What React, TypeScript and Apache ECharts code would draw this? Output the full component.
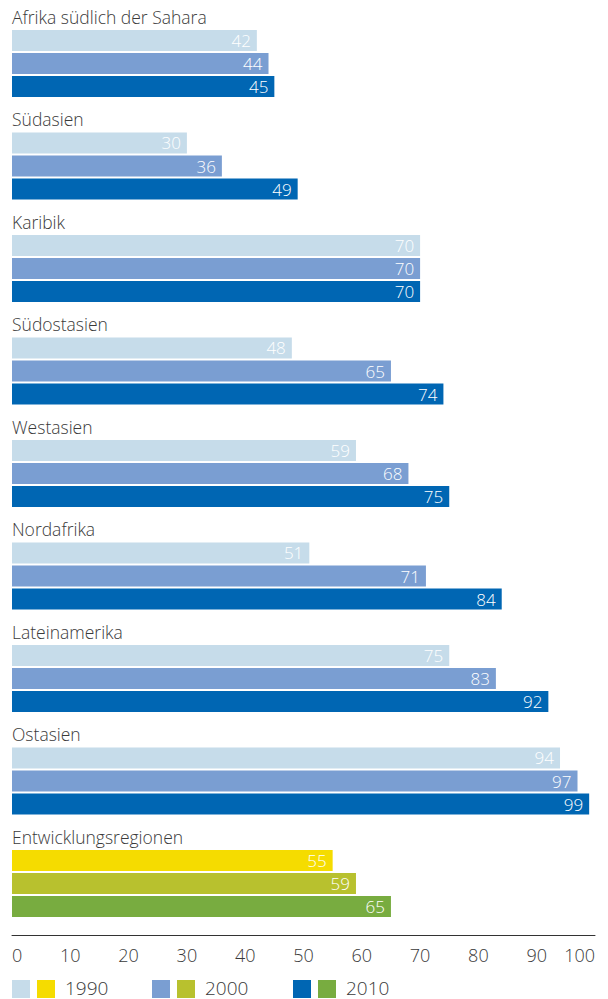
import React, { useEffect, useRef } from "react";
import * as echarts from "echarts";

const categories = [
  "Afrika südlich der Sahara",
  "Südasien",
  "Karibik",
  "Südostasien",
  "Westasien",
  "Nordafrika",
  "Lateinamerika",
  "Ostasien",
  "Entwicklungsregionen",
];
const years = ["1990", "2000", "2010"];
const values1990 = [42, 30, 70, 48, 59, 51, 75, 94, 55];
const values2000 = [44, 36, 70, 65, 68, 71, 83, 97, 59];
const values2010 = [45, 49, 70, 74, 75, 84, 92, 99, 65];
const xTicks = [0, 10, 20, 30, 40, 50, 60, 70, 80, 90, 100];

const blueColors = ["#c6dcea", "#7a9ed2", "#0066b3"];
const greenColors = ["#f5dc00", "#b8c12e", "#78ac40"];
const highlightCategory = "Entwicklungsregionen";

const FONT = "'Open Sans', 'DejaVu Sans', sans-serif";
const TEXT_COLOR = "#3a3a3a";

export default function App() {
  const ref = useRef<HTMLDivElement>(null);

  useEffect(() => {
    if (!ref.current) return;
    const chart = echarts.init(ref.current, undefined, { renderer: "svg" });
    const allValues = [values1990, values2000, values2010];

    const series = years.map((y, si) => ({
      name: y,
      type: "bar",
      barWidth: 21,
      barGap: "10%",
      data: allValues[si].map((v, ci) => ({
        value: v,
        itemStyle: {
          color: categories[ci] === highlightCategory ? greenColors[si] : blueColors[si],
        },
      })),
      label: {
        show: true,
        position: "insideRight",
        distance: 6,
        color: "#ffffff",
        fontSize: 17,
        fontFamily: FONT,
        fontWeight: 300,
      },
    }));

    const legendGraphics: any[] = [];
    const groupX = [12, 152, 293];
    years.forEach((y, i) => {
      const x0 = groupX[i];
      legendGraphics.push({
        type: "rect",
        left: x0,
        top: 980,
        shape: { width: 18, height: 18 },
        style: { fill: blueColors[i] },
      });
      legendGraphics.push({
        type: "rect",
        left: x0 + 25,
        top: 980,
        shape: { width: 18, height: 18 },
        style: { fill: greenColors[i] },
      });
      legendGraphics.push({
        type: "text",
        left: x0 + 53,
        top: 978,
        style: {
          text: y,
          fill: TEXT_COLOR,
          font: `300 19px ${FONT}`,
        },
      });
    });

    chart.setOption({
      animation: false,
      grid: { left: 12, right: 13, top: 12.25, bottom: 64.25, containLabel: false },
      xAxis: {
        type: "value",
        min: xTicks[0],
        max: xTicks[xTicks.length - 1],
        interval: 10,
        axisLine: { show: true, lineStyle: { color: "#333333", width: 1 } },
        axisTick: { show: false },
        splitLine: { show: false },
        axisLabel: {
          color: TEXT_COLOR,
          fontSize: 18,
          fontFamily: FONT,
          fontWeight: 300,
          margin: 11,
          alignMinLabel: "left",
          alignMaxLabel: "right",
        },
      },
      yAxis: {
        type: "category",
        data: categories,
        inverse: true,
        axisLine: { show: false },
        axisTick: { show: false },
        axisLabel: {
          inside: true,
          margin: 0,
          align: "left",
          verticalAlign: "bottom",
          padding: [0, 0, 38, 0],
          color: TEXT_COLOR,
          fontSize: 17.5,
          fontFamily: FONT,
          fontWeight: 300,
        },
      },
      series,
      graphic: legendGraphics,
    });

    return () => chart.dispose();
  }, []);

  return <div ref={ref} style={{ width: 608, height: 999, position: "absolute", left: 0, top: 0 }} />;
}
